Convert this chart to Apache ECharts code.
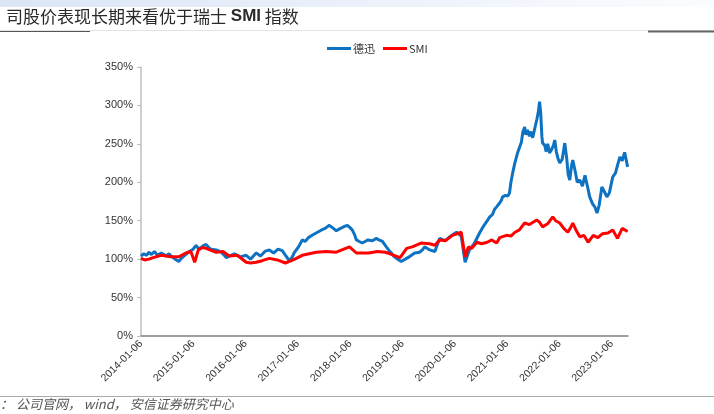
<!DOCTYPE html>
<html><head><meta charset="utf-8">
<script src="https://cdn.jsdelivr.net/npm/echarts@6/dist/echarts.min.js"></script>
<style>html,body{margin:0;padding:0;background:#fff}#c{width:714px;height:414px}</style>
</head><body><div id="c"></div>
<script>
const xTickLabels = ['2014-01-06','2015-01-06','2016-01-06','2017-01-06','2018-01-06','2019-01-06','2020-01-06','2021-01-06','2022-01-06','2023-01-06'];
const yTicks = [0,50,100,150,200,250,300,350];

const blueDates = ['2014-01-06','2014-01-25','2014-02-15','2014-03-01','2014-03-20','2014-04-10','2014-05-01','2014-05-27','2014-06-15','2014-07-01','2014-07-20','2014-08-10','2014-09-01','2014-09-27','2014-10-15','2014-11-01','2014-11-20','2014-12-10','2015-01-05','2015-01-25','2015-02-10','2015-03-01','2015-03-20','2015-04-05','2015-04-25','2015-05-10','2015-06-15','2015-07-20','2015-08-10','2015-08-25','2015-09-14','2015-10-20','2015-11-15','2015-12-01','2016-01-10','2016-02-10','2016-03-01','2016-03-20','2016-04-20','2016-05-20','2016-06-20','2016-07-20','2016-08-20','2016-09-18','2016-10-15','2016-11-06','2016-11-25','2016-12-10','2017-01-10','2017-02-05','2017-02-25','2017-03-20','2017-04-15','2017-05-13','2017-06-01','2017-06-20','2017-07-15','2017-08-13','2017-09-10','2017-10-01','2017-10-20','2017-11-10','2017-12-01','2017-12-17','2018-01-05','2018-01-20','2018-02-05','2018-02-18','2018-03-10','2018-03-31','2018-04-20','2018-05-10','2018-06-10','2018-07-07','2018-07-25','2018-08-19','2018-09-15','2018-10-01','2018-10-20','2018-11-05','2018-11-25','2018-12-28','2019-01-25','2019-02-22','2019-04-01','2019-05-05','2019-05-25','2019-06-10','2019-07-15','2019-08-20','2019-09-22','2019-11-01','2019-12-01','2020-01-18','2020-02-20','2020-03-18','2020-04-17','2020-05-20','2020-06-27','2020-07-15','2020-08-01','2020-08-20','2020-09-06','2020-09-25','2020-10-10','2020-10-24','2020-11-10','2020-11-25','2020-12-05','2020-12-25','2021-01-10','2021-01-22','2021-02-01','2021-02-13','2021-02-28','2021-03-19','2021-04-01','2021-04-15','2021-04-25','2021-05-08','2021-05-15','2021-05-27','2021-06-10','2021-06-20','2021-07-03','2021-07-15','2021-07-31','2021-08-10','2021-08-20','2021-08-28','2021-09-05','2021-09-10','2021-09-25','2021-10-05','2021-10-16','2021-10-28','2021-11-10','2021-11-25','2021-12-04','2021-12-15','2021-12-25','2022-01-08','2022-01-25','2022-02-12','2022-02-25','2022-03-08','2022-03-19','2022-03-30','2022-04-09','2022-04-25','2022-05-10','2022-05-28','2022-06-15','2022-07-03','2022-07-20','2022-08-05','2022-08-25','2022-09-10','2022-09-25','2022-10-10','2022-10-29','2022-11-15','2022-12-03','2022-12-20','2023-01-13','2023-02-01','2023-02-15','2023-03-04','2023-03-20','2023-04-06','2023-04-18','2023-04-27'];
const blueValues = [104,107,105,109,106,110,105,108,106,104,107,103,100,97,101,104,107,110,113,118,114,115,118,119,115,113,112,109,105,102,104,107,104,103,105,100,104,108,104,110,112,108,113,111,104,98,102,108,116,125,123,128,131,134,136,138,140,144,140,137,139,141,143,144,141,138,132,125,123,121,123,125,124,127,125,123,116,112,108,104,101,97,100,103,108,109,112,116,112,110,127,124,129,135,130,96,112,120,134,140,145,150,155,158,165,168,172,176,181,183,182,186,200,212,225,238,245,252,265,272,262,268,260,266,258,268,281,290,305,290,260,251,248,240,250,238,242,248,255,240,232,225,230,251,232,210,203,220,229,215,200,203,195,209,195,181,172,168,160,170,194,188,181,186,207,212,222,233,228,239,228,220];

const redDates = ['2014-01-06','2014-02-01','2014-03-01','2014-04-01','2014-05-27','2014-07-01','2014-08-01','2014-09-27','2014-11-15','2014-12-20','2015-01-16','2015-02-10','2015-03-10','2015-04-05','2015-06-15','2015-08-01','2015-09-14','2015-11-10','2016-01-10','2016-02-10','2016-03-20','2016-05-01','2016-06-20','2016-08-15','2016-10-10','2016-12-15','2017-02-05','2017-05-13','2017-07-20','2017-10-01','2018-01-01','2018-02-18','2018-05-15','2018-07-15','2018-09-08','2018-10-25','2018-12-20','2019-02-04','2019-03-15','2019-05-15','2019-07-15','2019-08-20','2019-09-22','2019-11-01','2019-12-20','2020-02-20','2020-03-18','2020-04-10','2020-05-01','2020-06-10','2020-07-10','2020-08-20','2020-09-20','2020-10-24','2020-11-15','2021-01-01','2021-02-01','2021-03-01','2021-04-01','2021-05-08','2021-06-10','2021-07-31','2021-08-20','2021-09-10','2021-10-15','2021-11-20','2021-12-10','2022-01-08','2022-02-05','2022-03-05','2022-03-25','2022-04-09','2022-05-01','2022-05-28','2022-06-25','2022-07-25','2022-08-30','2022-10-01','2022-11-01','2022-12-10','2023-01-13','2023-02-15','2023-03-20','2023-04-27'];
const redValues = [101,99,100,102,105,104,103,103,108,110,96,112,115,114,109,110,104,105,96,95,96,98,101,99,95,100,105,109,110,109,116,108,108,110,109,106,102,114,116,121,120,118,125,124,131,135,103,116,114,122,120,122,125,121,128,131,130,135,138,147,145,151,148,142,146,155,150,147,140,135,141,147,138,129,131,122,131,128,133,134,138,127,140,136];

const base = Date.UTC(2014,0,6);
const toT = d => (Date.parse(d + 'T00:00:00Z') - base) / (365.25 * 86400000);
const blueData = blueDates.map((d,i) => [toT(d), blueValues[i]]);
const redData = redDates.map((d,i) => [toT(d), redValues[i]]);

const chart = echarts.init(document.getElementById('c'));
chart.setOption({
  animation: false,
  backgroundColor: '#fff',
  graphic: [
    {type:'rect', shape:{x:0,y:0,width:714,height:7}, style:{fill:new echarts.graphic.LinearGradient(0,0,1,0,[{offset:0,color:'#dbe5f5'},{offset:1,color:'#fbfcff'}])}, silent:true},
    {type:'text', left:6, top:8, style:{text:'司股价表现长期来看优于瑞士 {b|SMI} 指数', font:'17px "Noto Sans CJK SC"', fill:'#2a2a2a',
      rich:{b:{fontFamily:'Arial', fontWeight:'bold', fontSize:17, fill:'#2a2a2a'}}}},
    {type:'line', shape:{x1:0,y1:30.5,x2:714,y2:30.5}, style:{stroke:'#e3e3e3', lineWidth:1}},
    {type:'line', shape:{x1:0,y1:31.5,x2:90,y2:31.5}, style:{stroke:'#555', lineWidth:1.2}},
    {type:'line', shape:{x1:648,y1:31.5,x2:714,y2:31.5}, style:{stroke:'#666', lineWidth:2}},
    {type:'line', shape:{x1:0,y1:396.5,x2:714,y2:396.5}, style:{stroke:'#aaa', lineWidth:1}},
    {type:'text', left:0, top:398, style:{text:'： 公司官网， wind， 安信证券研究中心', font:'italic 13px "Noto Sans CJK SC"', fill:'#555'}}
  ],
  legend: {
    top: 38, left: 322,
    itemWidth: 24, itemHeight: 3, itemGap: 8,
    icon: 'rect',
    textStyle: {fontSize: 11, color: '#333', fontFamily: '"Noto Sans CJK SC", Arial', padding: [0,0,0,-3]},
    data: ['德迅','SMI']
  },
  grid: {left: 141, right: 86, top: 67, bottom: 78},
  xAxis: {
    type: 'value', min: 0, max: 9.31, interval: 1,
    axisLine: {lineStyle: {color: '#808080', width: 1.5}},
    axisTick: {show: false},
    splitLine: {show: false},
    axisLabel: {rotate: 45, fontSize: 10.5, color: '#333', fontFamily: 'Arial', margin: 6, showMaxLabel: false,
      formatter: v => { const i = Math.round(v); return (Math.abs(v - i) < 1e-6 && xTickLabels[i]) ? xTickLabels[i] : ''; }}
  },
  yAxis: {
    type: 'value', min: 0, max: 350, interval: 50,
    axisLine: {show: true, lineStyle: {color: '#bfbfbf', width: 1.5}},
    axisTick: {show: true, length: 4, lineStyle: {color: '#bfbfbf'}},
    splitLine: {show: false},
    axisLabel: {fontSize: 11, color: '#333', fontFamily: 'Arial', margin: 8,
      formatter: v => yTicks.indexOf(v) >= 0 ? v + '%' : ''}
  },
  series: [
    {name:'德迅', type:'line', data: blueData, showSymbol:false, lineStyle:{color:'#0e72c2', width:3}, itemStyle:{color:'#0e72c2'}, z:2},
    {name:'SMI', type:'line', data: redData, showSymbol:false, lineStyle:{color:'#ff0000', width:3}, itemStyle:{color:'#ff0000'}, z:3}
  ]
});
</script></body></html>
